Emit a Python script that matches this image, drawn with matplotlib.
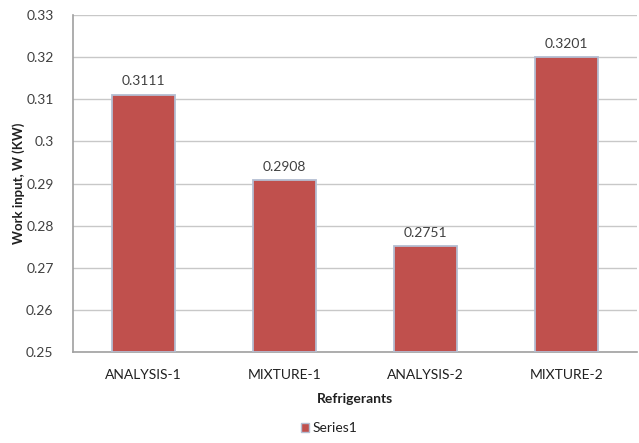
import matplotlib
matplotlib.use("Agg")
import matplotlib.pyplot as plt
from matplotlib.patches import Patch

categories = ["ANALYSIS-1", "MIXTURE-1", "ANALYSIS-2", "MIXTURE-2"]
work_input = [0.3111, 0.2908, 0.2751, 0.3201]
value_labels = ["0.3111", "0.2908", "0.2751", "0.3201"]
y_ticks = [0.25, 0.26, 0.27, 0.28, 0.29, 0.30, 0.31, 0.32, 0.33]
y_tick_labels = ["0.25", "0.26", "0.27", "0.28", "0.29", "0.3", "0.31", "0.32", "0.33"]

plt.rcParams["font.family"] = ["Lato", "DejaVu Sans"]

fig = plt.figure(figsize=(6.39, 4.43), dpi=100)
ax = fig.add_axes([73 / 639, 1 - 352 / 443, (637 - 73) / 639, (352 - 15) / 443])

bar_color = "#C0504D"
edge_color = "#B4BED2"
text_color = "#404040"
fs = 10

x = range(len(categories))
ax.bar(x, [v - 0.25 for v in work_input], bottom=0.25, width=0.45,
       color=bar_color, edgecolor=edge_color, linewidth=1.3, zorder=3)

for xi, v, lab in zip(x, work_input, value_labels):
    ax.text(xi, v + 0.0017, lab, ha="center", va="bottom", fontsize=fs,
            color=text_color)

ax.set_xlim(-0.5, len(categories) - 0.5)
ax.set_ylim(0.25, 0.33)
ax.set_yticks(y_ticks)
ax.set_yticklabels(y_tick_labels, fontsize=fs, color=text_color)
ax.set_xticks(list(x))
ax.set_xticklabels(categories, fontsize=fs, color="#202020")
ax.tick_params(axis="x", length=0, pad=12)
ax.tick_params(axis="y", length=0, pad=14)

ax.grid(axis="y", color="#C8C8C8", linewidth=1.0, zorder=0)
for side in ["top", "right"]:
    ax.spines[side].set_visible(False)
ax.spines["left"].set_color("#A0A0A0")
ax.spines["bottom"].set_color("#A0A0A0")
ax.spines["left"].set_linewidth(1.2)
ax.spines["bottom"].set_linewidth(1.2)

ax.set_xlabel("Refrigerants", fontsize=fs, fontweight="bold", color="#202020",
              labelpad=9)
ax.set_ylabel("Work input, W (KW)", fontsize=9.5, fontweight="bold",
              color="#202020", labelpad=1)

handle = Patch(facecolor=bar_color, edgecolor=edge_color, linewidth=1.0)
fig.legend([handle], ["Series1"], loc="center", bbox_to_anchor=(329 / 639, 1 - 428 / 443),
           frameon=False, fontsize=fs, handlelength=0.6, handleheight=0.6,
           handletextpad=0.2, labelcolor="#202020")

fig.savefig("out.png", dpi=100)
